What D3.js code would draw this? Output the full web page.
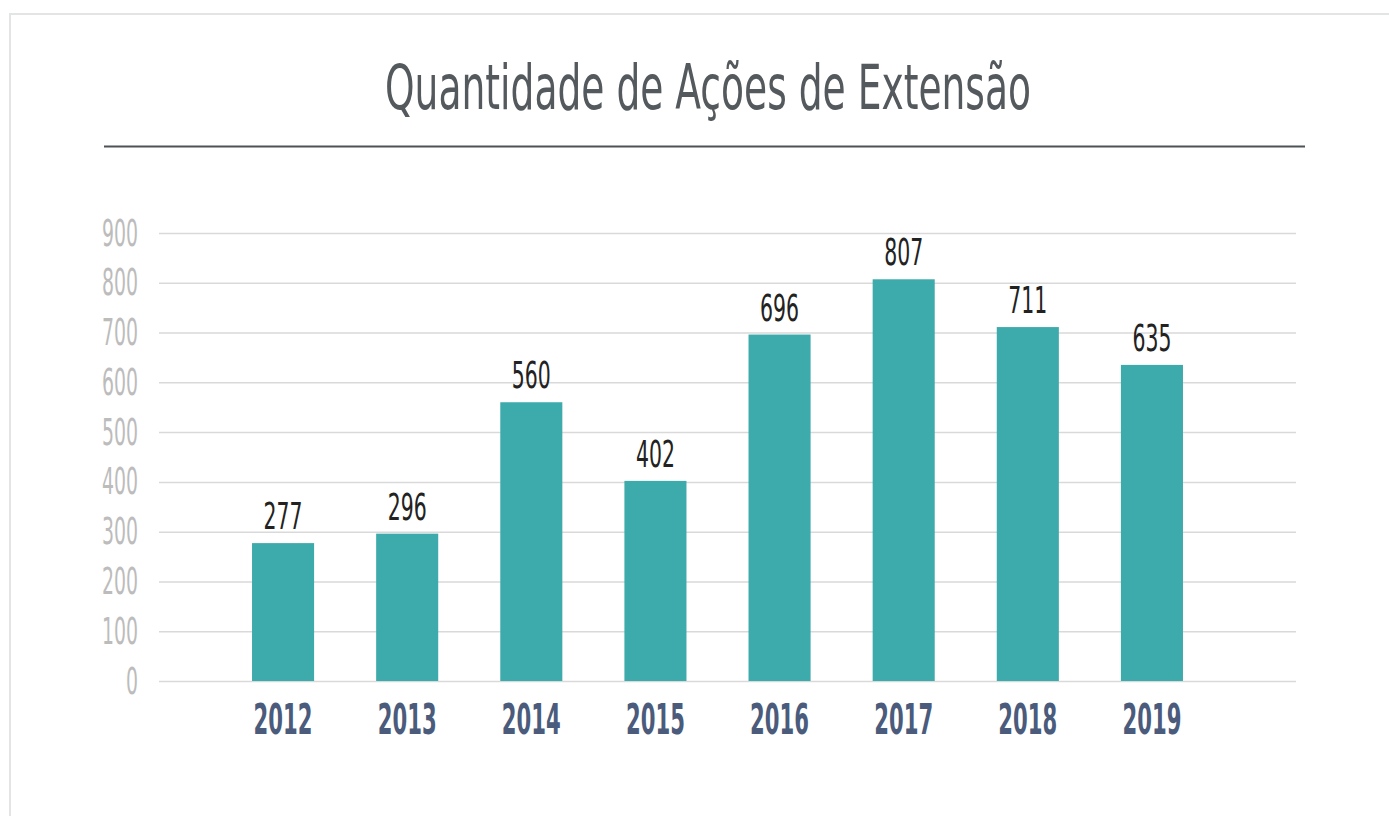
<!DOCTYPE html>
<html>
<head>
<meta charset="utf-8">
<script src="https://cdn.jsdelivr.net/npm/d3@7"></script>
<style>
  html, body { margin: 0; padding: 0; background: #fff; }
  svg { display: block; }
  .cond { font-family: "Liberation Sans Narrow", "DejaVu Sans Condensed", "Arial Narrow", sans-serif; }
</style>
</head>
<body>
<svg id="chart" width="1389" height="816"></svg>
<script>
const title = "Quantidade de Ações de Extensão";
const years = ["2012", "2013", "2014", "2015", "2016", "2017", "2018", "2019"];
const values = [277, 296, 560, 402, 696, 807, 711, 635];
const yTicks = [0, 100, 200, 300, 400, 500, 600, 700, 800, 900];

const svg = d3.select("#chart");
const W = 1389, H = 816;

// frame
svg.append("rect")
  .attr("x", 10).attr("y", 14)
  .attr("width", W + 20).attr("height", H + 20)
  .attr("fill", "#fff")
  .attr("stroke", "#e3e4e4").attr("stroke-width", 2);

// title
svg.append("text")
  .attr("class", "cond")
  .attr("x", 708).attr("y", 109)
  .attr("text-anchor", "middle")
  .attr("font-size", 62)
  .attr("fill", "#54595d")
  .attr("textLength", 646)
  .attr("lengthAdjust", "spacingAndGlyphs")
  .text(title);

// title underline
svg.append("line")
  .attr("x1", 104).attr("x2", 1305)
  .attr("y1", 146.5).attr("y2", 146.5)
  .attr("stroke", "#4d5257").attr("stroke-width", 2);

const plotL = 159, plotR = 1296;
const y = d3.scaleLinear().domain([0, 900]).range([681, 233]);
const x = d3.scaleBand().domain(years).range([221, 1214]).paddingInner(0.5).paddingOuter(0.25);

// y axis + gridlines
const yAxis = svg.append("g")
  .attr("transform", `translate(${plotL},0)`)
  .call(d3.axisLeft(y).tickValues(yTicks).tickSize(-(plotR - plotL)).tickPadding(21));
yAxis.select(".domain").remove();
yAxis.selectAll(".tick line").attr("stroke", "#d9d9d9").attr("stroke-width", 1.5);
yAxis.selectAll(".tick text")
  .attr("class", "cond")
  .attr("font-size", 37.5)
  .attr("fill", "#bcbcbc")
  .attr("dy", "0.32em")
  .attr("textLength", d => String(d).length * 12)
  .attr("lengthAdjust", "spacingAndGlyphs");

// bars
svg.append("g").selectAll("rect")
  .data(years.map((yr, i) => ({ yr, v: values[i] })))
  .join("rect")
  .attr("x", d => x(d.yr))
  .attr("width", x.bandwidth())
  .attr("y", d => y(d.v))
  .attr("height", d => y(0) - y(d.v))
  .attr("fill", "#3daaab");

// value labels
svg.append("g").selectAll("text")
  .data(years.map((yr, i) => ({ yr, v: values[i] })))
  .join("text")
  .attr("class", "cond")
  .attr("x", d => x(d.yr) + x.bandwidth() / 2)
  .attr("y", d => y(d.v) - 14)
  .attr("text-anchor", "middle")
  .attr("font-size", 38)
  .attr("fill", "#222222")
  .attr("textLength", d => String(d.v).length * 13)
  .attr("lengthAdjust", "spacingAndGlyphs")
  .text(d => d.v);

// x axis
const xAxis = svg.append("g")
  .attr("transform", `translate(0,${y(0)})`)
  .call(d3.axisBottom(x).tickSize(0));
xAxis.select(".domain").remove();
xAxis.selectAll(".tick text")
  .attr("class", "cond")
  .attr("y", 53).attr("dy", 0)
  .attr("font-size", 42)
  .attr("font-weight", "bold")
  .attr("fill", "#4a5b7c")
  .attr("textLength", d => d.length * 14.75)
  .attr("lengthAdjust", "spacingAndGlyphs");
</script>
</body>
</html>
